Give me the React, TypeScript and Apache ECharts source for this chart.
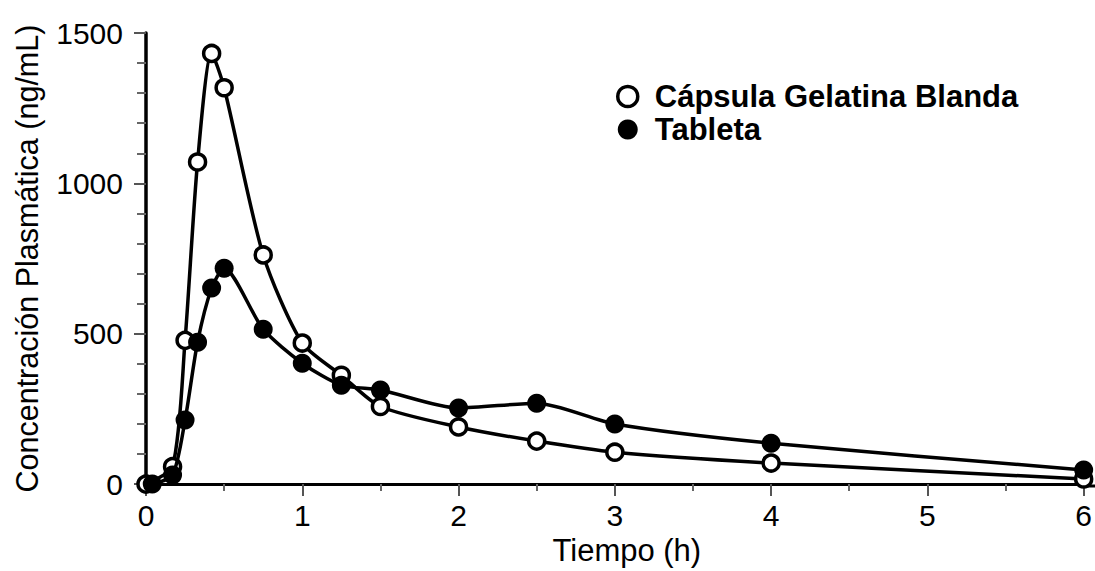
import React, { useEffect, useRef } from "react";
import * as echarts from "echarts";

const capsuleName = "Cápsula Gelatina Blanda";
const tabletName = "Tableta";

const capsuleTime = [0, 0.17, 0.25, 0.33, 0.42, 0.5, 0.75, 1.0, 1.25, 1.5, 2.0, 2.5, 3.0, 4.0, 6.0];
const capsuleConc = [0, 58, 478, 1071, 1432, 1318, 762, 469, 362, 258, 190, 143, 106, 70, 17];

const tabletTime = [0.04, 0.17, 0.25, 0.33, 0.42, 0.5, 0.75, 1.0, 1.25, 1.5, 2.0, 2.5, 3.0, 4.0, 6.0];
const tabletConc = [0, 30, 213, 472, 652, 718, 515, 402, 329, 313, 253, 269, 200, 136, 47];

const yTicks = [0, 500, 1000, 1500];
const xTicks = [0, 1, 2, 3, 4, 5, 6];

const FONT = "Liberation Sans, Arial, sans-serif";

export default function App() {
  const ref = useRef<HTMLDivElement>(null);

  useEffect(() => {
    if (!ref.current) return;
    const chart = echarts.init(ref.current, null, { renderer: "svg" });
    const capsuleData = capsuleTime.map((t, i) => [t, capsuleConc[i]]);
    const tabletData = tabletTime.map((t, i) => [t, tabletConc[i]]);

    chart.setOption({
      animation: false,
      backgroundColor: "#ffffff",
      grid: { left: 146, right: 11, top: 33, bottom: 85, containLabel: false },
      legend: {
        orient: "vertical",
        left: 611,
        top: 76,
        itemWidth: 20,
        itemHeight: 20,
        itemGap: 2,
        textStyle: {
          fontFamily: FONT,
          fontWeight: "bold",
          fontSize: 31,
          color: "#000",
          lineHeight: 30,
          padding: [0, 0, 0, 12],
        },
        data: [
          {
            name: capsuleName,
            icon: "circle",
            itemStyle: { color: "#fff", borderColor: "#000", borderWidth: 3.5 },
          },
          {
            name: tabletName,
            icon: "circle",
            itemStyle: { color: "#000", borderColor: "#000", borderWidth: 0 },
          },
        ],
      },
      xAxis: {
        type: "value",
        min: 0,
        max: 6,
        interval: 1,
        name: "Tiempo (h)",
        nameLocation: "middle",
        nameGap: 49,
        nameTextStyle: { fontFamily: FONT, fontSize: 31, color: "#000", padding: [0, 0, 0, 24] },
        axisLine: { show: true, onZero: false, lineStyle: { color: "#000", width: 3 } },
        axisTick: { show: true, length: 12, lineStyle: { color: "#555", width: 2 } },
        minorTick: { show: true, splitNumber: 2, length: 7, lineStyle: { color: "#666", width: 2 } },
        splitLine: { show: false },
        axisLabel: {
          margin: 16,
          fontFamily: FONT,
          fontSize: 30,
          color: "#000",
          formatter: (v: number) => (xTicks.includes(v) ? String(v) : ""),
        },
      },
      yAxis: {
        type: "value",
        min: 0,
        max: 1500,
        interval: 500,
        name: "Concentración Plasmática (ng/mL)",
        nameLocation: "middle",
        nameGap: 104,
        nameTextStyle: { fontFamily: FONT, fontSize: 30.5, color: "#000" },
        axisLine: { show: true, lineStyle: { color: "#000", width: 3.5 } },
        axisTick: { show: true, length: 12, lineStyle: { color: "#555", width: 2 } },
        minorTick: { show: true, splitNumber: 5, length: 9, lineStyle: { color: "#666", width: 2 } },
        splitLine: { show: false },
        axisLabel: {
          margin: 23,
          fontFamily: FONT,
          fontSize: 30,
          color: "#000",
          formatter: (v: number) => (yTicks.includes(v) ? String(v) : ""),
        },
      },
      graphic: [
        {
          type: "line",
          shape: { x1: 1082, y1: 486, x2: 1095, y2: 486 },
          style: { stroke: "#000", lineWidth: 3 },
          z: 1,
        },
      ],
      series: [
        {
          name: capsuleName,
          type: "line",
          data: capsuleData,
          smooth: 0.25,
          clip: false,
          symbol: "circle",
          symbolSize: 16,
          showAllSymbol: true,
          lineStyle: { color: "#000", width: 3.5 },
          itemStyle: { color: "#fff", borderColor: "#000", borderWidth: 3.5 },
          z: 3,
        },
        {
          name: tabletName,
          type: "line",
          data: tabletData,
          smooth: 0.25,
          clip: false,
          symbol: "circle",
          symbolSize: 19,
          showAllSymbol: true,
          lineStyle: { color: "#000", width: 3.5 },
          itemStyle: { color: "#000", borderColor: "#000", borderWidth: 0 },
          z: 4,
        },
      ],
    });

    return () => chart.dispose();
  }, []);

  return (
    <div
      ref={ref}
      style={{ position: "absolute", left: 0, top: 0, width: 1095, height: 571, background: "#fff" }}
    />
  );
}
